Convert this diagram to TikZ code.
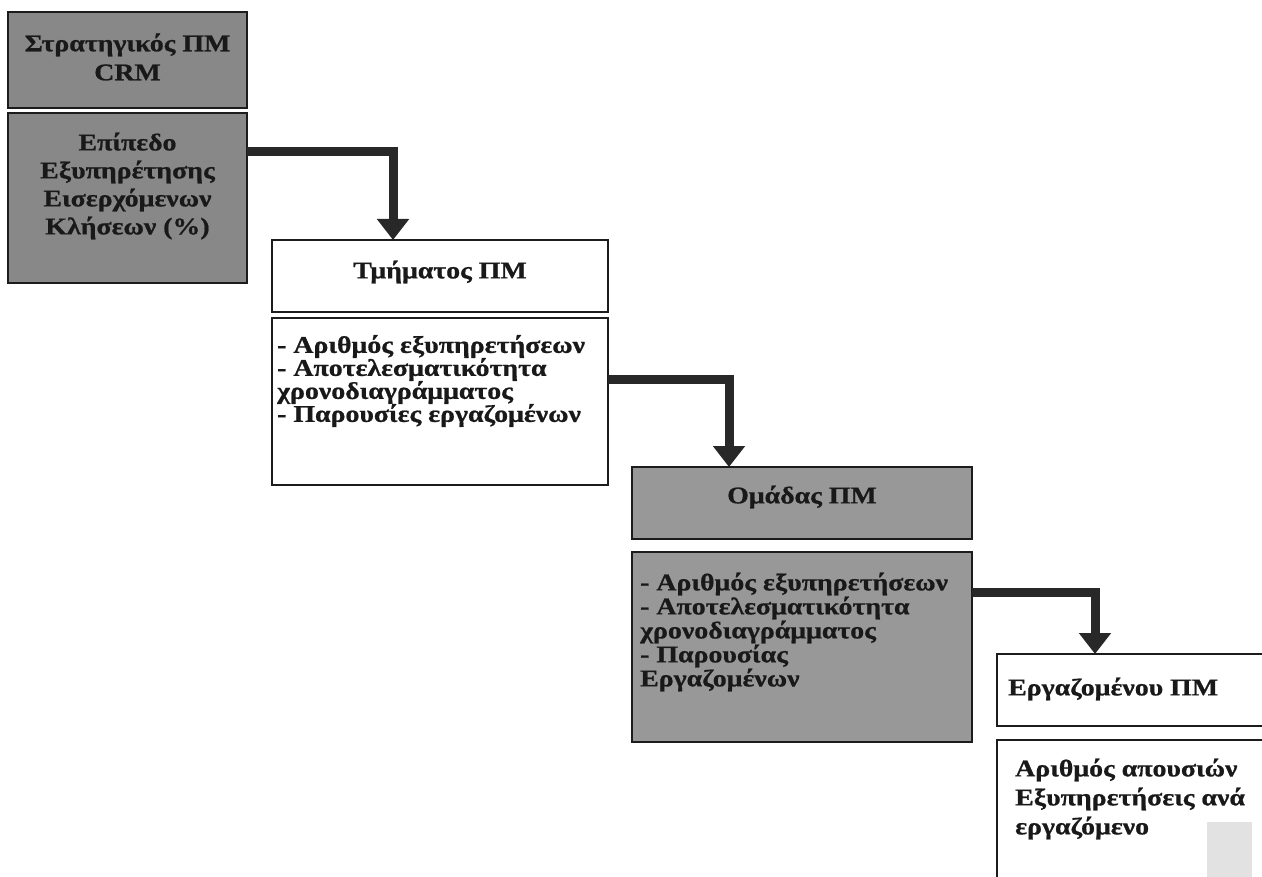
\documentclass[tikz,border=0pt]{standalone}
\usepackage{fontspec}
\setmainfont{Liberation Serif}[FakeStretch=1.16, BoldFeatures={FakeBold=0.8}]
\usetikzlibrary{arrows.meta}

\definecolor{darkgrayA}{RGB}{136,136,136}
\definecolor{darkgrayB}{RGB}{152,152,152}
\definecolor{edgeink}{RGB}{28,28,28}
\definecolor{linkink}{RGB}{40,40,40}
\definecolor{speck}{RGB}{226,226,226}

\tikzset{
  panel/.style={draw=edgeink, line width=1.4pt, inner sep=0pt, outer sep=0pt,
                anchor=north west},
  grayA/.style={panel, fill=darkgrayA},
  grayB/.style={panel, fill=darkgrayB},
  whitebox/.style={panel, fill=white},
  label/.style={font=\bfseries\fontsize{24}{#1}\selectfont, text=black!90,
                inner sep=0pt},
  link/.style={draw=linkink, line width=9pt, line join=miter,
               -{Triangle[width=31pt,length=21pt]}},
}

\begin{document}
\begin{tikzpicture}[x=1pt,y=-1pt]
  \useasboundingbox (0,0) rectangle (1262,877);
  \clip (0,0) rectangle (1262,877);

  % strategic level
  \node[grayA, minimum width=239pt, minimum height=96pt]  (b1) at (8,12)  {};
  \node[grayA, minimum width=239pt, minimum height=170pt] (b2) at (8,113) {};
  \node[label=29pt, align=center] (t1) at (127.5,57) {Στρατηγικός ΠΜ\\CRM};
  \node[label=28pt, align=center] (t2) at (127.5,186)
       {Επίπεδο\\Εξυπηρέτησης\\Εισερχόμενων\\Κλήσεων (\%)};

  % department level
  \node[whitebox, minimum width=336pt, minimum height=72pt]  (b3) at (272,240) {};
  \node[whitebox, minimum width=336pt, minimum height=167pt] (b4) at (272,318) {};
  \node[label=23pt] (t3) at (440,272) {Τμήματος ΠΜ};
  \node[label=23pt, align=left, anchor=west] (t4) at (277,381)
       {- Αριθμός εξυπηρετήσεων\\- Αποτελεσματικότητα\\χρονοδιαγράμματος\\- Παρουσίες εργαζομένων};

  % team level
  \node[grayB, minimum width=340pt, minimum height=72pt]  (b5) at (632,467) {};
  \node[grayB, minimum width=340pt, minimum height=190pt] (b6) at (632,552) {};
  \node[label=23pt] (t5) at (802,497) {Ομάδας ΠΜ};
  \node[label=24pt, align=left, anchor=west] (t6) at (640,632)
       {- Αριθμός εξυπηρετήσεων\\- Αποτελεσματικότητα\\χρονοδιαγράμματος\\- Παρουσίας\\Εργαζομένων};

  % employee level
  \node[whitebox, minimum width=300pt, minimum height=72pt]  (b7) at (997,654) {};
  \node[whitebox, minimum width=300pt, minimum height=160pt] (b8) at (997,740) {};
  \node[label=23pt, anchor=west] (t7) at (1008,689) {Εργαζομένου ΠΜ};
  \node[label=29pt, align=left, anchor=west] (t8) at (1015,799)
       {Αριθμός απουσιών\\Εξυπηρετήσεις ανά\\εργαζόμενο};
  \fill[speck] (1207,822) rectangle (1252,877);

  % connectors between levels
  \coordinate (k1) at (393,152);
  \coordinate (k2) at (729,380);
  \coordinate (k3) at (1095,592);
  \draw[link] (b2.east |- k1) -| (k1 |- b3.north);
  \draw[link] (b4.east |- k2) -| (k2 |- b5.north);
  \draw[link] (b6.east |- k3) -| (k3 |- b7.north);
\end{tikzpicture}
\end{document}
